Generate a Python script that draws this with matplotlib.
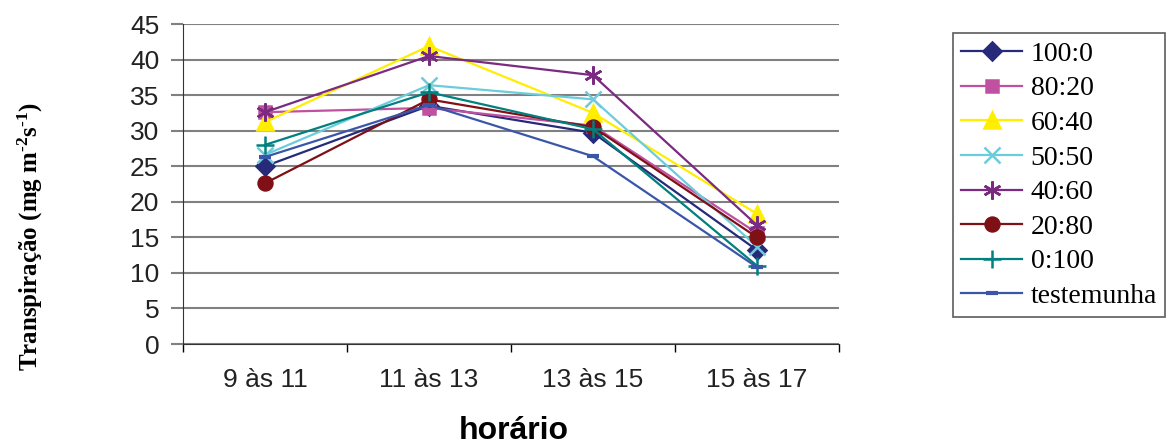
import matplotlib.pyplot as plt
import numpy as np

plt.rcParams["mathtext.fontset"] = "custom"
plt.rcParams["mathtext.rm"] = "Liberation Serif:bold"
plt.rcParams["mathtext.it"] = "Liberation Serif:bold"
plt.rcParams["mathtext.bf"] = "Liberation Serif:bold"

# horarios de medicao
horarios = ["9 às 11", "11 às 13", "13 às 15", "15 às 17"]

# transpiracao media por tratamento (mg m-2 s-1)
t100_0 = [25.0, 33.5, 29.7, 13.2]
t80_20 = [32.6, 33.2, 30.7, 15.6]
t60_40 = [31.2, 41.9, 32.5, 18.3]
t50_50 = [26.6, 36.4, 34.4, 13.7]
t40_60 = [32.6, 40.5, 37.8, 16.7]
t20_80 = [22.6, 34.4, 30.5, 15.0]
t0_100 = [28.0, 35.4, 30.2, 11.0]
testemunha = [26.3, 33.6, 26.4, 10.8]

series = [
    ("100:0", t100_0, "#262A78", "D", 9),
    ("80:20", t80_20, "#C050A0", "s", 9),
    ("60:40", t60_40, "#FFEE00", "^", 11),
    ("50:50", t50_50, "#6CCCDC", "x", 11),
    ("40:60", t40_60, "#7A2A80", (6, 2, 0), 13),
    ("20:80", t20_80, "#7F1015", "o", 10),
    ("0:100", t0_100, "#00807E", "+", 13),
    ("testemunha", testemunha, "#3A56A8", "_", 9),
]

fig = plt.figure(figsize=(11.74, 4.46), dpi=100)
ax = fig.add_axes([183/1174, 1-344/446, (839-183)/1174, (344-24)/446])

x = np.arange(len(horarios))
for nome, vals, cor, mk, ms in series:
    mew = 3 if mk == "_" else 1.8
    ax.plot(x, vals, color=cor, marker=mk, markersize=ms, linewidth=1.6,
            markeredgewidth=mew, label=nome)

ax.set_xlim(-0.5, 3.5)
ax.set_ylim(0, 45)
ax.set_yticks(np.arange(0, 46, 5))
ax.yaxis.grid(True, color="#808080", linewidth=1.5)
ax.set_axisbelow(True)
ax.set_xticks(x)
ax.set_xticklabels(horarios, fontsize=19, family="Liberation Sans", color="#222222")
ax.set_xticks(np.arange(-0.5, 4, 1), minor=True)
ax.tick_params(axis="x", which="major", length=0, pad=17)
ax.tick_params(axis="x", which="minor", length=6, direction="out", width=1)
ax.tick_params(axis="y", length=9, width=1.5, color="#808080", pad=8, labelsize=19)
for lab in ax.get_yticklabels():
    lab.set_family("Liberation Sans")
    lab.set_color("#222222")
for s in ["top", "right"]:
    ax.spines[s].set_visible(False)
ax.spines["left"].set_color("#333333")
ax.spines["bottom"].set_color("#333333")

fig.text(514/1174, 1-431/446, "horário", fontsize=23, fontweight="bold",
         family="Liberation Sans", ha="center", va="center")
fig.text(30/1174, 1-236/446, r"Transpiração (mg m$^{\text{-2}}$s$^{\text{-1}}$)", rotation=90,
         va="center", ha="center", fontsize=18, fontweight="bold", family="Liberation Serif")

leg = fig.legend(loc="upper left", bbox_to_anchor=(953/1174, 1-33/446),
                 prop={"family": "Liberation Serif", "size": 20}, frameon=True, fancybox=False,
                 edgecolor="#333333", handlelength=2.2, borderpad=0.3, labelspacing=0.33,
                 handletextpad=0.3, borderaxespad=0)
leg.get_frame().set_linewidth(1.2)

fig.savefig("out.png", dpi=100)
